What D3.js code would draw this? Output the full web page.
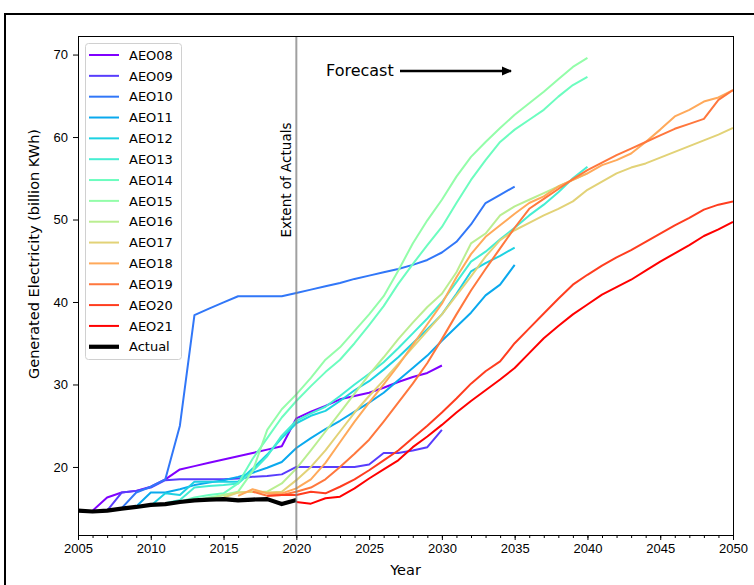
<!DOCTYPE html>
<meta charset="utf-8">
<style>

body {
  margin: 0;
  font-family: 'DejaVu Sans', sans-serif;
  background: #fff;
}

svg {
  display: block;
}

.tick text
{
    font-size: 13px;
    fill: #000;
}

.leg text
{
    font-size: 13px;
}

</style>
<body>
<div id='chart'></div>
<script src="https://d3js.org/d3.v7.min.js"></script>
<script>

// series names, first year of each series, and values (billion KWh)
var names = ['AEO08','AEO09','AEO10','AEO11','AEO12','AEO13','AEO14',
             'AEO15','AEO16','AEO17','AEO18','AEO19','AEO20','AEO21']
var starts = [2006,2007,2008,2009,2010,2011,2012,2013,2014,2015,2016,2017,2018,2020]

var aeo08 = [14.7,16.3,16.9,17.1,17.6,18.5,19.7,20.1,20.5,20.9,21.3,21.7,22.1,22.5,
             25.9,26.7,27.4,28.2,28.6,29.0,29.6,30.3,30.9,31.4,32.3]
var aeo09 = [14.7,16.9,17.1,17.5,18.4,18.5,18.5,18.5,18.5,18.6,18.8,18.9,19.1,
             20.0,20.0,20.0,20.0,20.0,20.3,21.7,21.7,22.0,22.4,24.5]
var aeo10 = [15.0,16.9,17.6,18.5,25.0,38.4,39.2,39.95,40.7,40.7,40.7,40.7,
             41.1,41.5,41.9,42.3,42.8,43.2,43.6,44.0,44.5,45.1,46.0,47.3,49.4,52.0,53.0,54.0]
var aeo11 = [15.2,16.9,16.9,17.3,17.8,18.1,18.4,18.8,19.3,19.9,20.6,
             22.3,23.5,24.6,25.6,26.7,27.8,29.0,30.5,32.0,33.5,35.3,37.0,38.7,40.8,42.1,44.5]
var aeo12 = [15.3,16.8,16.6,18.2,18.2,18.2,18.2,19.8,21.5,23.5,
             25.3,26.2,26.8,28.0,29.3,30.4,31.8,33.3,35.0,36.7,38.5,41.0,43.7,44.7,45.6,46.6]
var aeo13 = [15.6,16.0,17.5,17.7,17.8,18.0,19.5,21.3,23.8,
             25.6,26.5,27.3,28.6,30.0,31.3,32.7,34.4,36.2,38.0,40.0,42.4,44.9,46.1,47.6,49.0,
             50.5,51.8,53.3,55.0,56.4]
var aeo14 = [15.8,16.3,16.6,16.8,18.0,21.0,23.5,26.0,
             28.0,29.8,31.5,33.0,35.0,37.2,39.5,42.2,44.6,46.9,49.1,52.0,54.8,57.2,59.4,60.9,
             62.1,63.3,64.9,66.3,67.3]
var aeo15 = [15.95,16.3,16.6,17.0,19.5,24.5,27.0,
             28.8,30.8,33.0,34.5,36.5,38.5,40.7,43.8,47.1,49.9,52.4,55.2,57.6,59.4,61.1,
             62.7,64.1,65.5,67.0,68.5,69.6]
var aeo16 = [16.1,16.6,16.9,17.0,17.0,18.0,
             19.8,22.0,24.3,26.6,28.9,31.2,33.3,35.5,37.5,39.4,41.0,43.6,47.1,48.3,50.5,51.6,
             52.4,53.2,54.0,54.8,55.6]
var aeo17 = [16.3,16.9,17.0,16.9,17.0,
             18.4,20.0,22.0,24.3,26.6,28.6,30.5,32.5,34.5,36.5,38.5,40.8,43.1,45.5,47.5,48.7,
             49.6,50.5,51.3,52.2,53.6,54.6,55.6,56.3,56.8,57.5,58.2,58.9,59.6,60.3,61.1]
var aeo18 = [16.5,17.3,16.8,16.8,
             17.4,18.5,20.5,23.0,25.5,27.8,30.0,32.3,34.8,37.3,39.8,43.0,45.8,47.9,49.3,50.7,
             52.0,52.8,54.0,54.8,55.6,56.6,57.2,58.0,59.4,60.9,62.5,63.3,64.3,64.8,65.7]
var aeo19 = [17.0,16.5,16.6,
             17.0,17.5,18.5,20.0,21.6,23.3,25.5,27.8,30.1,32.6,35.5,38.5,41.4,44.0,46.5,49.0,
             51.3,52.5,53.7,54.9,56.0,56.9,57.8,58.6,59.4,60.2,61.0,61.6,62.2,64.5,65.7]
var aeo20 = [16.5,16.6,
             16.6,17.0,16.8,17.6,18.5,19.6,20.8,22.0,23.5,25.0,26.6,28.3,30.1,31.6,32.8,35.0,
             36.8,38.6,40.4,42.1,43.3,44.4,45.4,46.3,47.3,48.3,49.3,50.2,51.2,51.8,52.2]
var aeo21 = [15.75,15.55,16.2,16.4,17.4,18.6,19.7,20.8,22.4,23.7,25.1,26.6,28.0,29.3,30.6,
             32.0,33.8,35.6,37.1,38.5,39.7,40.9,41.8,42.7,43.8,44.9,45.9,46.9,48.0,48.8,49.7]

var actualStart = 2005
var actual = [14.7,14.6,14.7,14.95,15.15,15.4,15.5,15.75,15.95,16.05,16.1,15.95,16.05,16.1,15.5,16.0]

var xTicks = [2005,2010,2015,2020,2025,2030,2035,2040,2045,2050]
var yTicks = [20,30,40,50,60,70]

var values = [aeo08,aeo09,aeo10,aeo11,aeo12,aeo13,aeo14,aeo15,aeo16,aeo17,aeo18,aeo19,aeo20,aeo21]

function toPoints(start, arr)
{
    return arr.map(function(v, i){ return [start + i, v] })
}

// matplotlib 'rainbow' colormap
function rainbow(t)
{
    var r = Math.min(1, Math.abs(2*t - 0.5))
    var g = Math.sin(t*Math.PI)
    var b = Math.cos(t*Math.PI/2)
    return d3.rgb(r*255, g*255, b*255).formatHex()
}

var W = 754, H = 585
var axL = 78, axR = 733, axT = 36, axB = 535

var svg = d3.select('#chart')
            .append('svg')
            .attr('width', W)
            .attr('height', H)

// outer figure frame
svg.append('path')
   .attr('d', 'M5,' + (H+10) + ' V14 H' + (W+10))
   .attr('fill', 'none')
   .attr('stroke', '#000')
   .attr('stroke-width', 2)

var x = d3.scaleLinear().domain([2005, 2050]).range([axL, axR])
var y = d3.scaleLinear().domain([11.75, 72.25]).range([axB, axT])

var line = d3.line()
  .x(function(d){ return x(d[0]) })
  .y(function(d){ return y(d[1]) })

var defs = svg.append('defs')
defs.append('clipPath').attr('id', 'clip')
  .append('rect')
    .attr('x', axL).attr('y', axT)
    .attr('width', axR-axL).attr('height', axB-axT)

defs.append('marker')
    .attr('id', 'arrowhead')
    .attr('viewBox', '0 -5 10 10')
    .attr('refX', 9)
    .attr('refY', 0)
    .attr('markerWidth', 4.2)
    .attr('markerHeight', 4.2)
    .attr('orient', 'auto')
  .append('path')
    .attr('d', 'M0,-4.5L10,0L0,4.5Z')
    .attr('fill', '#000')

var plot = svg.append('g').attr('clip-path', 'url(#clip)')

values.forEach(function(arr, i){
    plot.append('path')
        .datum(toPoints(starts[i], arr))
        .attr('d', line)
        .attr('fill', 'none')
        .attr('stroke', rainbow(i/13))
        .attr('stroke-width', 2)
        .attr('stroke-linejoin', 'round')
})

plot.append('path')
    .datum(toPoints(actualStart, actual))
    .attr('d', line)
    .attr('fill', 'none')
    .attr('stroke', '#000')
    .attr('stroke-width', 4.2)
    .attr('stroke-linejoin', 'round')

// extent of actuals
svg.append('line')
   .attr('x1', x(2020)).attr('x2', x(2020))
   .attr('y1', axT).attr('y2', axB)
   .attr('stroke', '#808080')
   .attr('stroke-opacity', 0.75)
   .attr('stroke-width', 2)

svg.append('text')
   .attr('transform', 'translate(' + (x(2020)-5) + ',' + 180 + ') rotate(-90)')
   .attr('text-anchor', 'middle')
   .style('font-size', '13.5px')
   .text('Extent of Actuals')

// forecast annotation
svg.append('text')
   .attr('x', 326)
   .attr('y', 75.5)
   .style('font-size', '16px')
   .text('Forecast')

svg.append('line')
   .attr('x1', 400).attr('y1', 71)
   .attr('x2', 511).attr('y2', 71)
   .attr('stroke', '#000')
   .attr('stroke-width', 2.4)
   .attr('marker-end', 'url(#arrowhead)')

// axes
var xAxis = svg.append('g')
   .attr('transform', 'translate(0,' + axB + ')')
   .call(d3.axisBottom(x).tickValues(xTicks).tickFormat(d3.format('d')).tickSize(5).tickPadding(4))

xAxis.append('g')
   .selectAll('line')
   .data(d3.range(2005, 2051))
   .enter().append('line')
     .attr('x1', function(d){ return x(d) + 0.5 })
     .attr('x2', function(d){ return x(d) + 0.5 })
     .attr('y1', 0).attr('y2', 3)
     .attr('stroke', '#000')

var yAxis = svg.append('g')
   .attr('transform', 'translate(' + axL + ',0)')
   .call(d3.axisLeft(y).tickValues(yTicks).tickSize(5).tickPadding(5))

svg.selectAll('.domain').remove()

svg.append('rect')
   .attr('x', axL + 0.5).attr('y', axT + 0.5)
   .attr('width', axR-axL).attr('height', axB-axT)
   .attr('fill', 'none')
   .attr('stroke', '#000')
   .attr('stroke-width', 1)

svg.append('text')
   .attr('x', (axL+axR)/2)
   .attr('y', 575)
   .attr('text-anchor', 'middle')
   .style('font-size', '14.5px')
   .text('Year')

svg.append('text')
   .attr('transform', 'translate(39,254) rotate(-90)')
   .attr('text-anchor', 'middle')
   .style('font-size', '14.5px')
   .text('Generated Electricity (billion KWh)')

// legend
var leg = svg.append('g').attr('class', 'leg')

leg.append('rect')
   .attr('x', 85.5).attr('y', 43.5)
   .attr('width', 96).attr('height', 316)
   .attr('rx', 3)
   .attr('fill', '#fff')
   .attr('fill-opacity', 0.8)
   .attr('stroke', '#d0d0d0')

var legNames = names.concat(['Actual'])
legNames.forEach(function(n, i){
    var yy = 55 + i*20.84
    leg.append('line')
       .attr('x1', 89).attr('x2', 119)
       .attr('y1', yy).attr('y2', yy)
       .attr('stroke', i < names.length ? rainbow(i/13) : '#000')
       .attr('stroke-width', i < names.length ? 2 : 4.2)
    leg.append('text')
       .attr('x', 129)
       .attr('y', yy + 4.7)
       .text(n)
})

</script>
</body>
